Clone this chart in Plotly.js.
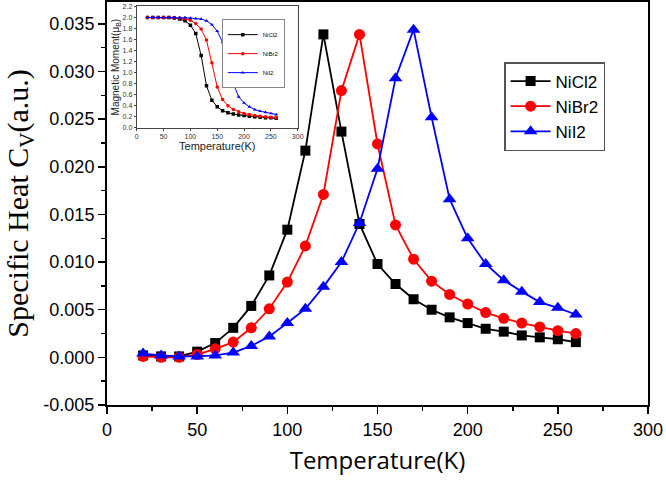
<!DOCTYPE html>
<html>
<head>
<meta charset="utf-8">
<script src="https://cdn.plot.ly/plotly-3.0.1.min.js"></script>
<style>html,body{margin:0;padding:0;background:#fff;}#chart{width:666px;height:483px;}</style>
</head>
<body>
<div id="chart"></div>
<script>
// ---- Main chart data: specific heat vs temperature ----
const temperature = [20,30,40,50,60,70,80,90,100,110,120,130,140,150,160,170,180,190,200,210,220,230,240,250,260];
const cvNiCl2 = [0.0002,0.0001,0.0001,0.0006,0.0015,0.0031,0.0054,0.0086,0.0134,0.0217,0.0339,0.0237,0.0140,0.0098,0.0077,0.0061,0.0050,0.0042,0.0036,0.0030,0.0027,0.0023,0.0021,0.0019,0.0016];
const cvNiBr2 = [0.0001,0.0000,0.0000,0.0003,0.0009,0.0016,0.0031,0.0051,0.0079,0.0117,0.0171,0.0280,0.0339,0.0224,0.0139,0.0103,0.0080,0.0066,0.0056,0.0047,0.0041,0.0036,0.0032,0.0028,0.0025];
const cvNiI2  = [0.0004,0.0002,0.0001,0.0001,0.0002,0.0005,0.0012,0.0022,0.0036,0.0051,0.0074,0.0100,0.0141,0.0198,0.0293,0.0344,0.0252,0.0166,0.0125,0.0098,0.0081,0.0069,0.0058,0.0052,0.0045];
const yTickVals = [-0.005,0,0.005,0.010,0.015,0.020,0.025,0.030,0.035];
const yTickText = ["-0.005","0.000","0.005","0.010","0.015","0.020","0.025","0.030","0.035"];
const xTickVals = [0,50,100,150,200,250,300];

// ---- Inset data: magnetic moment vs temperature ----
const insetTemperature = [20,30,40,50,60,70,80,90,100,110,120,130,140,150,160,170,180,190,200,210,220,230,240,250,260];
const momentNiCl2 = [2.0,2.0,2.0,2.0,2.0,1.99,1.97,1.94,1.86,1.71,1.31,0.76,0.50,0.38,0.31,0.27,0.25,0.23,0.22,0.21,0.20,0.19,0.18,0.18,0.17];
const momentNiBr2 = [2.0,2.0,2.0,2.0,2.0,2.0,1.99,1.98,1.95,1.89,1.79,1.59,1.18,0.74,0.51,0.40,0.33,0.29,0.26,0.24,0.22,0.21,0.20,0.19,0.18];
const momentNiI2  = [2.0,2.0,2.0,2.0,2.0,2.0,2.0,2.0,1.99,1.98,1.97,1.94,1.87,1.75,1.55,1.18,0.80,0.56,0.45,0.38,0.33,0.30,0.28,0.26,0.24];
const insetXTicks = [0,50,100,150,200,250,300];
const insetYTicks = [0,0.2,0.4,0.6,0.8,1.0,1.2,1.4,1.6,1.8,2.0,2.2];

const names = ["NiCl2","NiBr2","NiI2"];
const colors = ["#000000","#ff0000","#0000ff"];
const symbols = ["square","circle","triangle-up"];
const mainSeries = [cvNiCl2, cvNiBr2, cvNiI2];
const insetSeries = [momentNiCl2, momentNiBr2, momentNiI2];
const mainSizes = [10, 11, 12];

const traces = [];
mainSeries.forEach((ys, i) => {
  traces.push({
    x: temperature, y: ys, name: names[i], type: "scatter", mode: "lines+markers",
    line: {color: colors[i], width: 1.8},
    marker: {color: colors[i], symbol: symbols[i], size: mainSizes[i]},
    xaxis: "x", yaxis: "y", legend: "legend"
  });
});
insetSeries.forEach((ys, i) => {
  traces.push({
    x: insetTemperature, y: ys, name: names[i], type: "scatter", mode: "lines+markers",
    line: {color: colors[i], width: 1},
    marker: {color: colors[i], symbol: symbols[i], size: 3.5},
    xaxis: "x2", yaxis: "y2", legend: "legend2"
  });
});

const layout = {
  width: 666, height: 483,
  margin: {l: 107, r: 18, t: 2, b: 78},
  paper_bgcolor: "#ffffff", plot_bgcolor: "#ffffff",
  showlegend: true,
  xaxis: {
    range: [0, 300], tickvals: xTickVals, showgrid: false, zeroline: false,
    showline: true, linecolor: "#000", linewidth: 2, mirror: true,
    ticks: "outside", ticklen: 7, tickwidth: 1.5, tickcolor: "#000",
    minor: {ticks: "outside", dtick: 25, ticklen: 4, tickwidth: 1.5, tickcolor: "#000", showgrid: false},
    tickfont: {family: "Liberation Sans, Arial, sans-serif", size: 18, color: "#000"},
    title: {text: "Temperature(K)", font: {family: "Open Sans, sans-serif", size: 24, color: "#000"}, standoff: 14},
    automargin: false
  },
  yaxis: {
    range: [-0.005, 0.0373], tickvals: yTickVals, ticktext: yTickText, showgrid: false, zeroline: false,
    showline: true, linecolor: "#000", linewidth: 2, mirror: true,
    ticks: "outside", ticklen: 7, tickwidth: 1.5, tickcolor: "#000",
    minor: {ticks: "outside", dtick: 0.0025, ticklen: 4, tickwidth: 1.5, tickcolor: "#000", showgrid: false},
    tickfont: {family: "Liberation Sans, Arial, sans-serif", size: 18, color: "#000"},
    title: {text: "Specific Heat C<sub>V</sub>(a.u.)", font: {family: "Liberation Serif, serif", size: 30, color: "#000"}, standoff: 6},
    automargin: false
  },
  xaxis2: {
    domain: [0.055, 0.3525], anchor: "y2", range: [0, 300], tickvals: insetXTicks,
    showgrid: false, zeroline: false, showline: true, linecolor: "#444", linewidth: 1, mirror: true,
    ticks: "outside", ticklen: 2, tickwidth: 1, tickcolor: "#444",
    tickfont: {family: "Liberation Sans, Arial, sans-serif", size: 7, color: "#333"},
    title: {text: "Temperature(K)", font: {family: "Liberation Sans, Arial, sans-serif", size: 11, color: "#222"}, standoff: 1},
    automargin: false
  },
  yaxis2: {
    domain: [0.688, 0.989], anchor: "x2", range: [0, 2.2], tickvals: insetYTicks, tickformat: ".1f",
    showgrid: false, zeroline: false, showline: true, linecolor: "#444", linewidth: 1, mirror: true,
    ticks: "outside", ticklen: 2, tickwidth: 1, tickcolor: "#444",
    tickfont: {family: "Liberation Sans, Arial, sans-serif", size: 7, color: "#333"},
    title: {text: "Magnetic Moment(μ<sub>B</sub>)", font: {family: "Liberation Sans, Arial, sans-serif", size: 10, color: "#222"}, standoff: 1},
    automargin: false
  },
  legend: {
    x: 0.734, y: 0.851, xanchor: "left", yanchor: "top",
    bgcolor: "#ffffff", bordercolor: "#555", borderwidth: 1.5,
    font: {family: "Liberation Sans, Arial, sans-serif", size: 17, color: "#000"},
    tracegroupgap: 0, itemwidth: 40
  },
  legend2: {
    x: 0.329, y: 0.957, xanchor: "right", yanchor: "top",
    bgcolor: "#ffffff", bordercolor: "#666", borderwidth: 0.8,
    font: {family: "Liberation Sans, Arial, sans-serif", size: 6, color: "#000"},
    tracegroupgap: 0, itemwidth: 30
  }
};

Plotly.newPlot("chart", traces, layout, {staticPlot: true, displayModeBar: false});
</script>
</body>
</html>
